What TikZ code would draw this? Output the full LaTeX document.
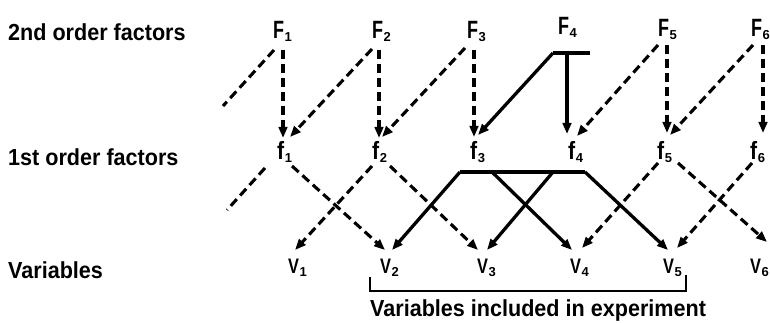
\documentclass[tikz,border=0pt]{standalone}
\usepackage{fontspec}
\setmainfont{Liberation Sans}
\usetikzlibrary{arrows.meta}
\newcommand\lvar[4]{\bfseries\scalebox{#3}[1]{\fontsize{#4}{#4}\selectfont #1}\hspace{0.5pt}\raisebox{-3pt}{\fontsize{13}{13}\selectfont #2}}
\newcommand\ltx[1]{\scalebox{0.93}[1]{#1}}
\begin{document}
\begin{tikzpicture}[x=1pt,y=-1pt,
  lbl/.style={anchor=base west,inner sep=0pt,font=\bfseries\fontsize{23.2}{28}\selectfont},
  vn/.style={anchor=base west,inner sep=0pt},
  dsh/.style={line width=3.1pt,dash pattern=on 9pt off 5pt},
  sld/.style={line width=3.3pt},
  tip/.style={-{Triangle[length=11pt,width=8.5pt]}}]
\useasboundingbox (0,0) rectangle (770,323);
% row labels
\node[lbl] (l2) at (8,41) {\ltx{2nd order factors}};
\node[lbl] (l1) at (8,166) {\ltx{1st order factors}};
\node[lbl] (l0) at (8,278) {\ltx{Variables}};
% second order
\node[vn] (F1) at (273,39) {\lvar{F}{1}{0.72}{25}};
\node[vn] (F2) at (372,39) {\lvar{F}{2}{0.72}{25}};
\node[vn] (F3) at (467,39) {\lvar{F}{3}{0.72}{25}};
\node[vn] (F4) at (558,35) {\lvar{F}{4}{0.72}{25}};
\node[vn] (F5) at (658,37) {\lvar{F}{5}{0.72}{25}};
\node[vn] (F6) at (751,37) {\lvar{F}{6}{0.72}{25}};
% first order
\node[vn] (f1) at (277,160) {\lvar{f}{1}{0.85}{25}};
\node[vn] (f2) at (372,160) {\lvar{f}{2}{0.85}{25}};
\node[vn] (f3) at (470,160) {\lvar{f}{3}{0.85}{25}};
\node[vn] (f4) at (568,160) {\lvar{f}{4}{0.85}{25}};
\node[vn] (f5) at (657,160) {\lvar{f}{5}{0.85}{25}};
\node[vn] (f6) at (750,160) {\lvar{f}{6}{0.85}{25}};
% variables
\node[vn] (V1) at (288,273) {\lvar{V}{1}{0.78}{21}};
\node[vn] (V2) at (380,273) {\lvar{V}{2}{0.78}{21}};
\node[vn] (V3) at (477,273) {\lvar{V}{3}{0.78}{21}};
\node[vn] (V4) at (570,273) {\lvar{V}{4}{0.78}{21}};
\node[vn] (V5) at (663,273) {\lvar{V}{5}{0.78}{21}};
\node[vn] (V6) at (750,273) {\lvar{V}{6}{0.78}{21}};
\node[lbl] (inc) at (370,316) {\ltx{Variables included in experiment}};
\coordinate (L1) at (223,106);
\coordinate (L2) at (227,210);
\coordinate (B1) at (370,277);
\coordinate (B2) at (370,291);
\coordinate (B3) at (686,291);
\coordinate (B4) at (686,275);
% upper connectors
\draw[dsh,tip] ([shift={(10,11)}]F1.base west) -- ([shift={(6,-22)}]f1.base west);
\draw[dsh] ([shift={(1,11)}]F1.base west) -- (L1);
\draw[dsh,tip] ([shift={(0,10)}]F2.base west) -- ([shift={(13,-23)}]f1.base west);
\draw[dsh,tip] ([shift={(7,11)}]F2.base west) -- ([shift={(7,-22)}]f2.base west);
\draw[dsh,tip] ([shift={(-2,9)}]F3.base west) -- ([shift={(10,-23)}]f2.base west);
\draw[dsh,tip] ([shift={(7,11)}]F3.base west) -- ([shift={(4,-23)}]f3.base west);
\draw[sld] ([shift={(-5,18)}]F4.base west) -- ([shift={(32,18)}]F4.base west);
\draw[sld,tip] ([shift={(-5,18)}]F4.base west) -- ([shift={(8,-25)}]f3.base west);
\draw[sld,tip] ([shift={(9,18)}]F4.base west) -- ([shift={(-1,-26)}]f4.base west);
\draw[dsh,tip] ([shift={(0,8)}]F5.base west) -- ([shift={(9,-24)}]f4.base west);
\draw[dsh,tip] ([shift={(9,8)}]F5.base west) -- ([shift={(10,-27)}]f5.base west);
\draw[dsh,tip] ([shift={(2,8)}]F6.base west) -- ([shift={(13,-25)}]f5.base west);
\draw[dsh,tip] ([shift={(12,8)}]F6.base west) -- ([shift={(13,-27)}]f6.base west);
% lower connectors
\draw[dsh] ([shift={(-12,8)}]f1.base west) -- (L2);
\draw[dsh,tip] ([shift={(15,6)}]f1.base west) -- ([shift={(5,-23)}]V2.base west);
\draw[dsh,tip] ([shift={(0,6)}]f2.base west) -- ([shift={(7,-23)}]V1.base west);
\draw[dsh,tip] ([shift={(18,6)}]f2.base west) -- ([shift={(1,-23)}]V3.base west);
\draw[sld] ([shift={(-10,12)}]f3.base west) -- ([shift={(17,12)}]f4.base west);
\draw[sld,tip] ([shift={(-10,12)}]f3.base west) -- ([shift={(12,-23)}]V2.base west);
\draw[sld,tip] ([shift={(22,12)}]f3.base west) -- ([shift={(2,-23)}]V4.base west);
\draw[sld,tip] ([shift={(-15,12)}]f4.base west) -- ([shift={(10,-23)}]V3.base west);
\draw[sld,tip] ([shift={(17,12)}]f4.base west) -- ([shift={(5,-23)}]V5.base west);
\draw[dsh,tip] ([shift={(1,3)}]f5.base west) -- ([shift={(12,-25)}]V4.base west);
\draw[dsh,tip] ([shift={(21,3)}]f5.base west) -- ([shift={(17,-31)}]V6.base west);
\draw[dsh,tip] ([shift={(2,3)}]f6.base west) -- ([shift={(14,-25)}]V5.base west);
% bracket
\draw[line width=2.8pt] (B1) -- (B2) -- (B3) -- (B4);
\end{tikzpicture}
\end{document}
